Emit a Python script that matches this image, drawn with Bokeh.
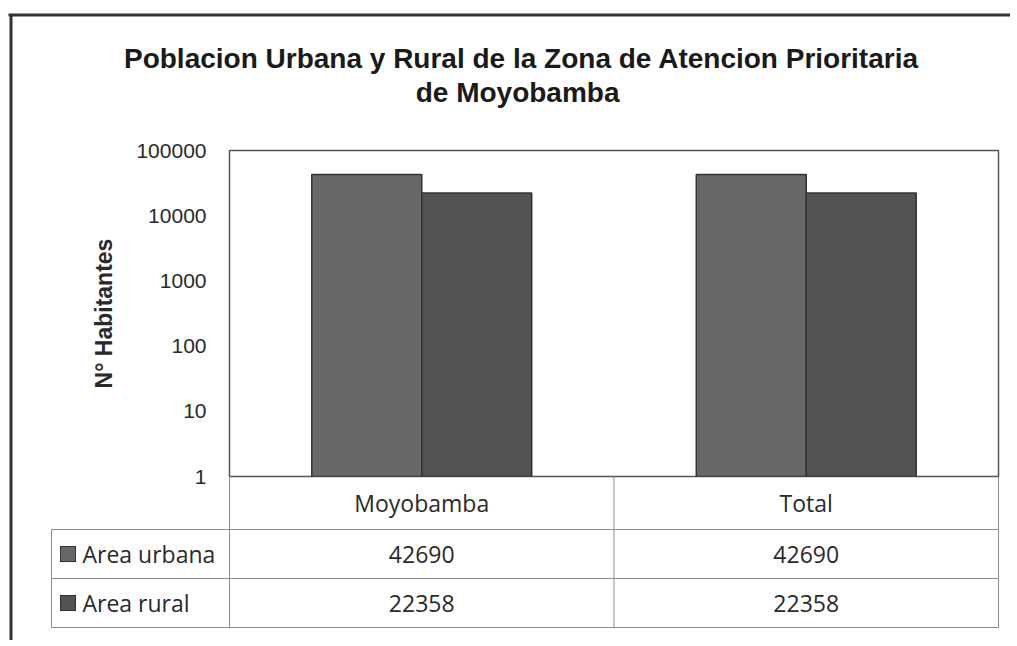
from bokeh.plotting import figure
from bokeh.models import (Range1d, FixedTicker, PrintfTickFormatter, ColumnDataSource,
                          LinearScale)
from bokeh.transform import dodge
from bokeh.core.properties import value
from bokeh.embed import file_html
from bokeh.resources import INLINE

# ---- data ----
categories = ["Moyobamba", "Total"]
series = ["Area urbana", "Area rural"]
urbana = [42690, 42690]
rural = [22358, 22358]
y_ticks = [1, 10, 100, 1000, 10000, 100000]
title_text = "Poblacion Urbana y Rural de la Zona de Atencion Prioritaria\nde  Moyobamba"
y_label = "N° Habitantes"

colors = ["#686868", "#535353"]
TXT = "#2a2a2a"

# category slots: category i occupies [i, i+1] on the x axis
cat_pos = [i + 0.5 for i in range(len(categories))]

p = figure(width=1010, height=640,
           x_range=Range1d(0, len(categories)),
           y_axis_type="log", y_range=Range1d(1, 100000),
           output_backend="svg", toolbar_location=None,
           min_border_left=229, min_border_right=12,
           min_border_top=150, min_border_bottom=164)

p.background_fill_color = "white"
p.border_fill_color = "white"
p.outline_line_color = "#555555"
p.outline_line_width = 1.5
p.grid.visible = False
p.xaxis.visible = False

ya = p.yaxis[0]
ya.ticker = FixedTicker(ticks=y_ticks, minor_ticks=[])
ya.formatter = PrintfTickFormatter(format="%d")
ya.axis_line_color = None
ya.major_tick_line_color = None
ya.minor_tick_line_color = None
ya.major_label_standoff = 17
ya.major_label_text_font = "Liberation Sans"
ya.major_label_text_font_size = "21px"
ya.major_label_text_color = TXT
ya.axis_label = y_label
ya.axis_label_text_font = "Liberation Sans"
ya.axis_label_text_font_style = "bold"
ya.axis_label_text_font_size = "23px"
ya.axis_label_text_color = TXT
ya.axis_label_standoff = 16

# pixel-like helper ranges for the surrounding table / frame
p.extra_x_ranges = {"px": Range1d(229, 998)}
p.extra_y_ranges = {"py": Range1d(476, 150)}
p.extra_y_scales = {"py": LinearScale()}

src = ColumnDataSource(dict(cat=categories, pos=cat_pos, urbana=urbana, rural=rural))
p.vbar(x=dodge("pos", -0.143), top="urbana", bottom=1,
       width=0.286, source=src, fill_color=colors[0], line_color="#333333", line_width=1.5)
p.vbar(x=dodge("pos", 0.143), top="rural", bottom=1,
       width=0.286, source=src, fill_color=colors[1], line_color="#333333", line_width=1.5)

# title
p.text(x=[521], y=[75], text=[title_text], x_range_name="px", y_range_name="py",
       text_align="center", text_baseline="middle", text_font=value("Liberation Sans"),
       text_font_style="bold", text_font_size="28px", text_line_height=1.1,
       text_color="#1a1a1a", level="overlay")

# outer frame
p.segment(x0=[8, 10.5], y0=[14.5, 14.5], x1=[1010, 10.5], y1=[14.5, 640],
          x_range_name="px", y_range_name="py", line_color="#333333",
          line_width=3, level="overlay")

# data table grid
hy = [529, 578, 627]
p.segment(x0=[51] * 3, y0=hy, x1=[998] * 3, y1=hy, x_range_name="px", y_range_name="py",
          line_color="#8c8c8c", line_width=1, level="overlay")
vx = [51, 229, 613.5, 998]
p.segment(x0=vx, y0=[529, 476, 476, 476], x1=vx, y1=[627] * 4, x_range_name="px",
          y_range_name="py", line_color="#8c8c8c", line_width=1, level="overlay")

# category labels row
p.text(x="pos", y=value(502.5), text="cat", source=src, y_range_name="py",
       text_align="center", text_baseline="middle", text_font=value("Open Sans"),
       text_font_size="23px", text_color=TXT, level="overlay")
# values rows
p.text(x=cat_pos, y=[553.5] * len(categories), text=[str(v) for v in urbana],
       y_range_name="py", text_align="center", text_baseline="middle",
       text_font=value("Open Sans"), text_font_size="23px", text_color=TXT, level="overlay")
p.text(x=cat_pos, y=[602.5] * len(categories), text=[str(v) for v in rural],
       y_range_name="py", text_align="center", text_baseline="middle",
       text_font=value("Open Sans"), text_font_size="23px", text_color=TXT, level="overlay")

# legend keys (drawn as thick strokes: outer dark, inner fill) + series names
key_y = [553.5, 602.5]
p.segment(x0=[59.5, 59.5], y0=key_y, x1=[75.5, 75.5], y1=key_y, line_width=16,
          line_cap="butt", line_color="#333333", x_range_name="px", y_range_name="py",
          level="overlay")
p.segment(x0=[60.5, 60.5], y0=key_y, x1=[74.5, 74.5], y1=key_y, line_width=14,
          line_cap="butt", line_color=colors, x_range_name="px", y_range_name="py",
          level="overlay")
p.text(x=[82, 82], y=key_y, text=series, x_range_name="px", y_range_name="py",
       text_align="left", text_baseline="middle", text_font=value("Open Sans"),
       text_font_size="23px", text_color=TXT, level="overlay")

open("out.html", "w").write(file_html(p, INLINE))
